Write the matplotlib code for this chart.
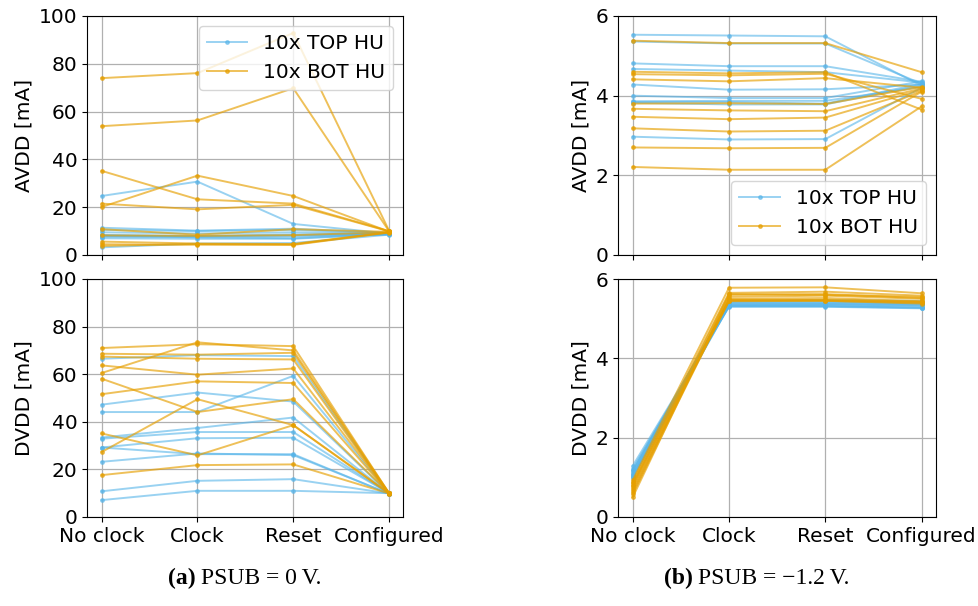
import matplotlib
matplotlib.use("Agg")
import matplotlib.pyplot as plt

# Operating states of the hybrid units
states = ["No clock", "Clock", "Reset", "Configured"]

# AVDD current [mA], PSUB = 0 V
avdd_0v_top = [
    [24.7, 30.7, 13.0, 9.0],
    [11.4, 10.2, 11.0, 9.2],
    [10.5, 10.0, 10.5, 9.0],
    [9.5, 9.0, 9.5, 8.8],
    [8.4, 8.0, 8.6, 8.9],
    [8.2, 7.8, 8.2, 8.7],
    [8.0, 7.4, 7.0, 8.8],
    [7.6, 7.6, 7.8, 8.6],
    [3.2, 4.8, 5.0, 8.5],
    [7.0, 6.8, 6.8, 8.7],
]
avdd_0v_bot = [
    [74.0, 76.1, 92.9, 10.2],
    [53.9, 56.3, 69.8, 10.0],
    [35.2, 23.3, 21.5, 10.0],
    [20.1, 33.2, 24.7, 9.8],
    [21.5, 19.1, 21.0, 9.9],
    [10.8, 8.5, 10.8, 9.7],
    [8.2, 8.0, 8.3, 9.5],
    [5.6, 4.8, 4.6, 9.6],
    [4.5, 4.3, 4.2, 9.4],
    [3.8, 4.6, 4.4, 9.5],
]

# DVDD current [mA], PSUB = 0 V
dvdd_0v_top = [
    [66.5, 68.0, 67.6, 9.8],
    [47.2, 52.3, 48.5, 9.9],
    [44.1, 44.1, 59.3, 10.0],
    [33.4, 37.4, 41.8, 9.8],
    [32.9, 35.7, 35.7, 9.9],
    [29.2, 33.1, 33.3, 10.0],
    [29.2, 26.4, 26.4, 9.7],
    [23.2, 26.7, 26.0, 9.8],
    [10.8, 15.2, 15.9, 9.9],
    [7.1, 11.0, 11.0, 10.0],
]
dvdd_0v_bot = [
    [71.0, 72.6, 71.8, 10.0],
    [68.6, 68.2, 69.0, 9.8],
    [67.4, 66.5, 66.2, 9.9],
    [60.5, 73.4, 70.0, 10.1],
    [63.7, 59.8, 62.4, 10.0],
    [58.1, 44.1, 49.5, 10.0],
    [51.6, 57.0, 56.3, 10.0],
    [35.1, 25.9, 38.6, 9.8],
    [27.3, 49.5, 38.6, 10.0],
    [17.6, 21.8, 22.1, 9.9],
]

# AVDD current [mA], PSUB = -1.2 V
avdd_12v_top = [
    [5.53, 5.51, 5.49, 4.25],
    [5.36, 5.31, 5.31, 4.30],
    [4.81, 4.74, 4.74, 4.35],
    [4.67, 4.63, 4.59, 4.33],
    [4.28, 4.15, 4.16, 4.28],
    [4.00, 3.94, 3.94, 4.36],
    [3.86, 3.87, 3.87, 4.22],
    [3.84, 3.84, 3.80, 4.30],
    [3.82, 3.78, 3.78, 4.26],
    [2.97, 2.90, 2.91, 4.20],
]
avdd_12v_bot = [
    [5.38, 5.32, 5.32, 4.59],
    [4.60, 4.56, 4.59, 3.65],
    [4.54, 4.51, 4.55, 3.92],
    [4.41, 4.36, 4.44, 4.20],
    [3.80, 3.81, 3.79, 4.22],
    [3.67, 3.63, 3.61, 4.18],
    [3.47, 3.41, 3.45, 4.15],
    [3.18, 3.10, 3.12, 4.12],
    [2.70, 2.68, 2.69, 4.10],
    [2.21, 2.14, 2.14, 3.73],
]

# DVDD current [mA], PSUB = -1.2 V
dvdd_12v_top = [
    [1.29, 5.30, 5.30, 5.26],
    [1.22, 5.32, 5.32, 5.28],
    [1.18, 5.35, 5.36, 5.33],
    [1.12, 5.42, 5.43, 5.40],
    [1.08, 5.31, 5.31, 5.27],
    [1.05, 5.38, 5.39, 5.36],
    [1.03, 5.45, 5.47, 5.45],
    [0.98, 5.33, 5.34, 5.30],
    [1.15, 5.40, 5.41, 5.38],
    [1.00, 5.36, 5.37, 5.34],
]
dvdd_12v_bot = [
    [0.93, 5.78, 5.79, 5.64],
    [0.88, 5.65, 5.68, 5.58],
    [0.81, 5.62, 5.60, 5.55],
    [0.78, 5.50, 5.52, 5.44],
    [0.73, 5.47, 5.47, 5.42],
    [0.68, 5.45, 5.45, 5.40],
    [0.62, 5.55, 5.58, 5.50],
    [0.58, 5.48, 5.47, 5.43],
    [0.50, 5.60, 5.62, 5.52],
    [0.85, 5.44, 5.45, 5.38],
]

BLUE = "#56B4E9"
ORANGE = "#E69F00"

plt.rcParams["font.family"] = ["DejaVu Sans"]
plt.rcParams["font.size"] = 14.5


def draw(ax, top, bot, ylim, yticks, ylabel, show_xlabels):
    x = list(range(len(states)))
    for i, vals in enumerate(top):
        ax.plot(x, vals, color=BLUE, marker=".", ms=5, lw=1.4, alpha=0.6,
                label="10x TOP HU" if i == 0 else None)
    for i, vals in enumerate(bot):
        ax.plot(x, vals, color=ORANGE, marker=".", ms=5, lw=1.4, alpha=0.65,
                label="10x BOT HU" if i == 0 else None)
    ax.set_xticks(x)
    if show_xlabels:
        ax.set_xticklabels(states)
    else:
        ax.set_xticklabels([])
    ax.set_ylim(*ylim)
    ax.set_yticks(yticks)
    ax.set_ylabel(ylabel)
    ax.grid(True, color="#b0b0b0", lw=0.9)


fig = plt.figure(figsize=(9.79, 6.06), dpi=100)

W = 979.0
H = 606.0


def place(x0, x1, y0, y1):
    return fig.add_axes([x0 / W, 1 - y1 / H, (x1 - x0) / W, (y1 - y0) / H])


ax_a1 = place(87.3, 403.4, 16, 255)
ax_a2 = place(87.3, 403.4, 279, 517)
ax_b1 = place(618.3, 936.0, 16, 255)
ax_b2 = place(618.3, 936.0, 279, 517)

draw(ax_a1, avdd_0v_top, avdd_0v_bot, (0, 100), [0, 20, 40, 60, 80, 100], "AVDD [mA]", False)
draw(ax_a2, dvdd_0v_top, dvdd_0v_bot, (0, 100), [0, 20, 40, 60, 80, 100], "DVDD [mA]", True)
draw(ax_b1, avdd_12v_top, avdd_12v_bot, (0, 6), [0, 2, 4, 6], "AVDD [mA]", False)
draw(ax_b2, dvdd_12v_top, dvdd_12v_bot, (0, 6), [0, 2, 4, 6], "DVDD [mA]", True)

ax_a1.legend(loc="upper right")
ax_b1.legend(loc="lower right")

# Sub-figure captions
cap_y = 1 - 578 / H
cap_font = ["Liberation Serif", "DejaVu Serif"]
cap_size = 17
fig.text(196 / W, cap_y, "(a)", ha="right", va="center", fontsize=cap_size,
         fontweight="bold", family=cap_font)
fig.text(201 / W, cap_y, "PSUB = 0\u2009V.", ha="left", va="center", fontsize=cap_size,
         family=cap_font)
fig.text(693 / W, cap_y, "(b)", ha="right", va="center", fontsize=cap_size,
         fontweight="bold", family=cap_font)
fig.text(698 / W, cap_y, "PSUB = \u22121.2\u2009V.", ha="left", va="center", fontsize=cap_size,
         family=cap_font)

fig.savefig("out.png", dpi=100)
